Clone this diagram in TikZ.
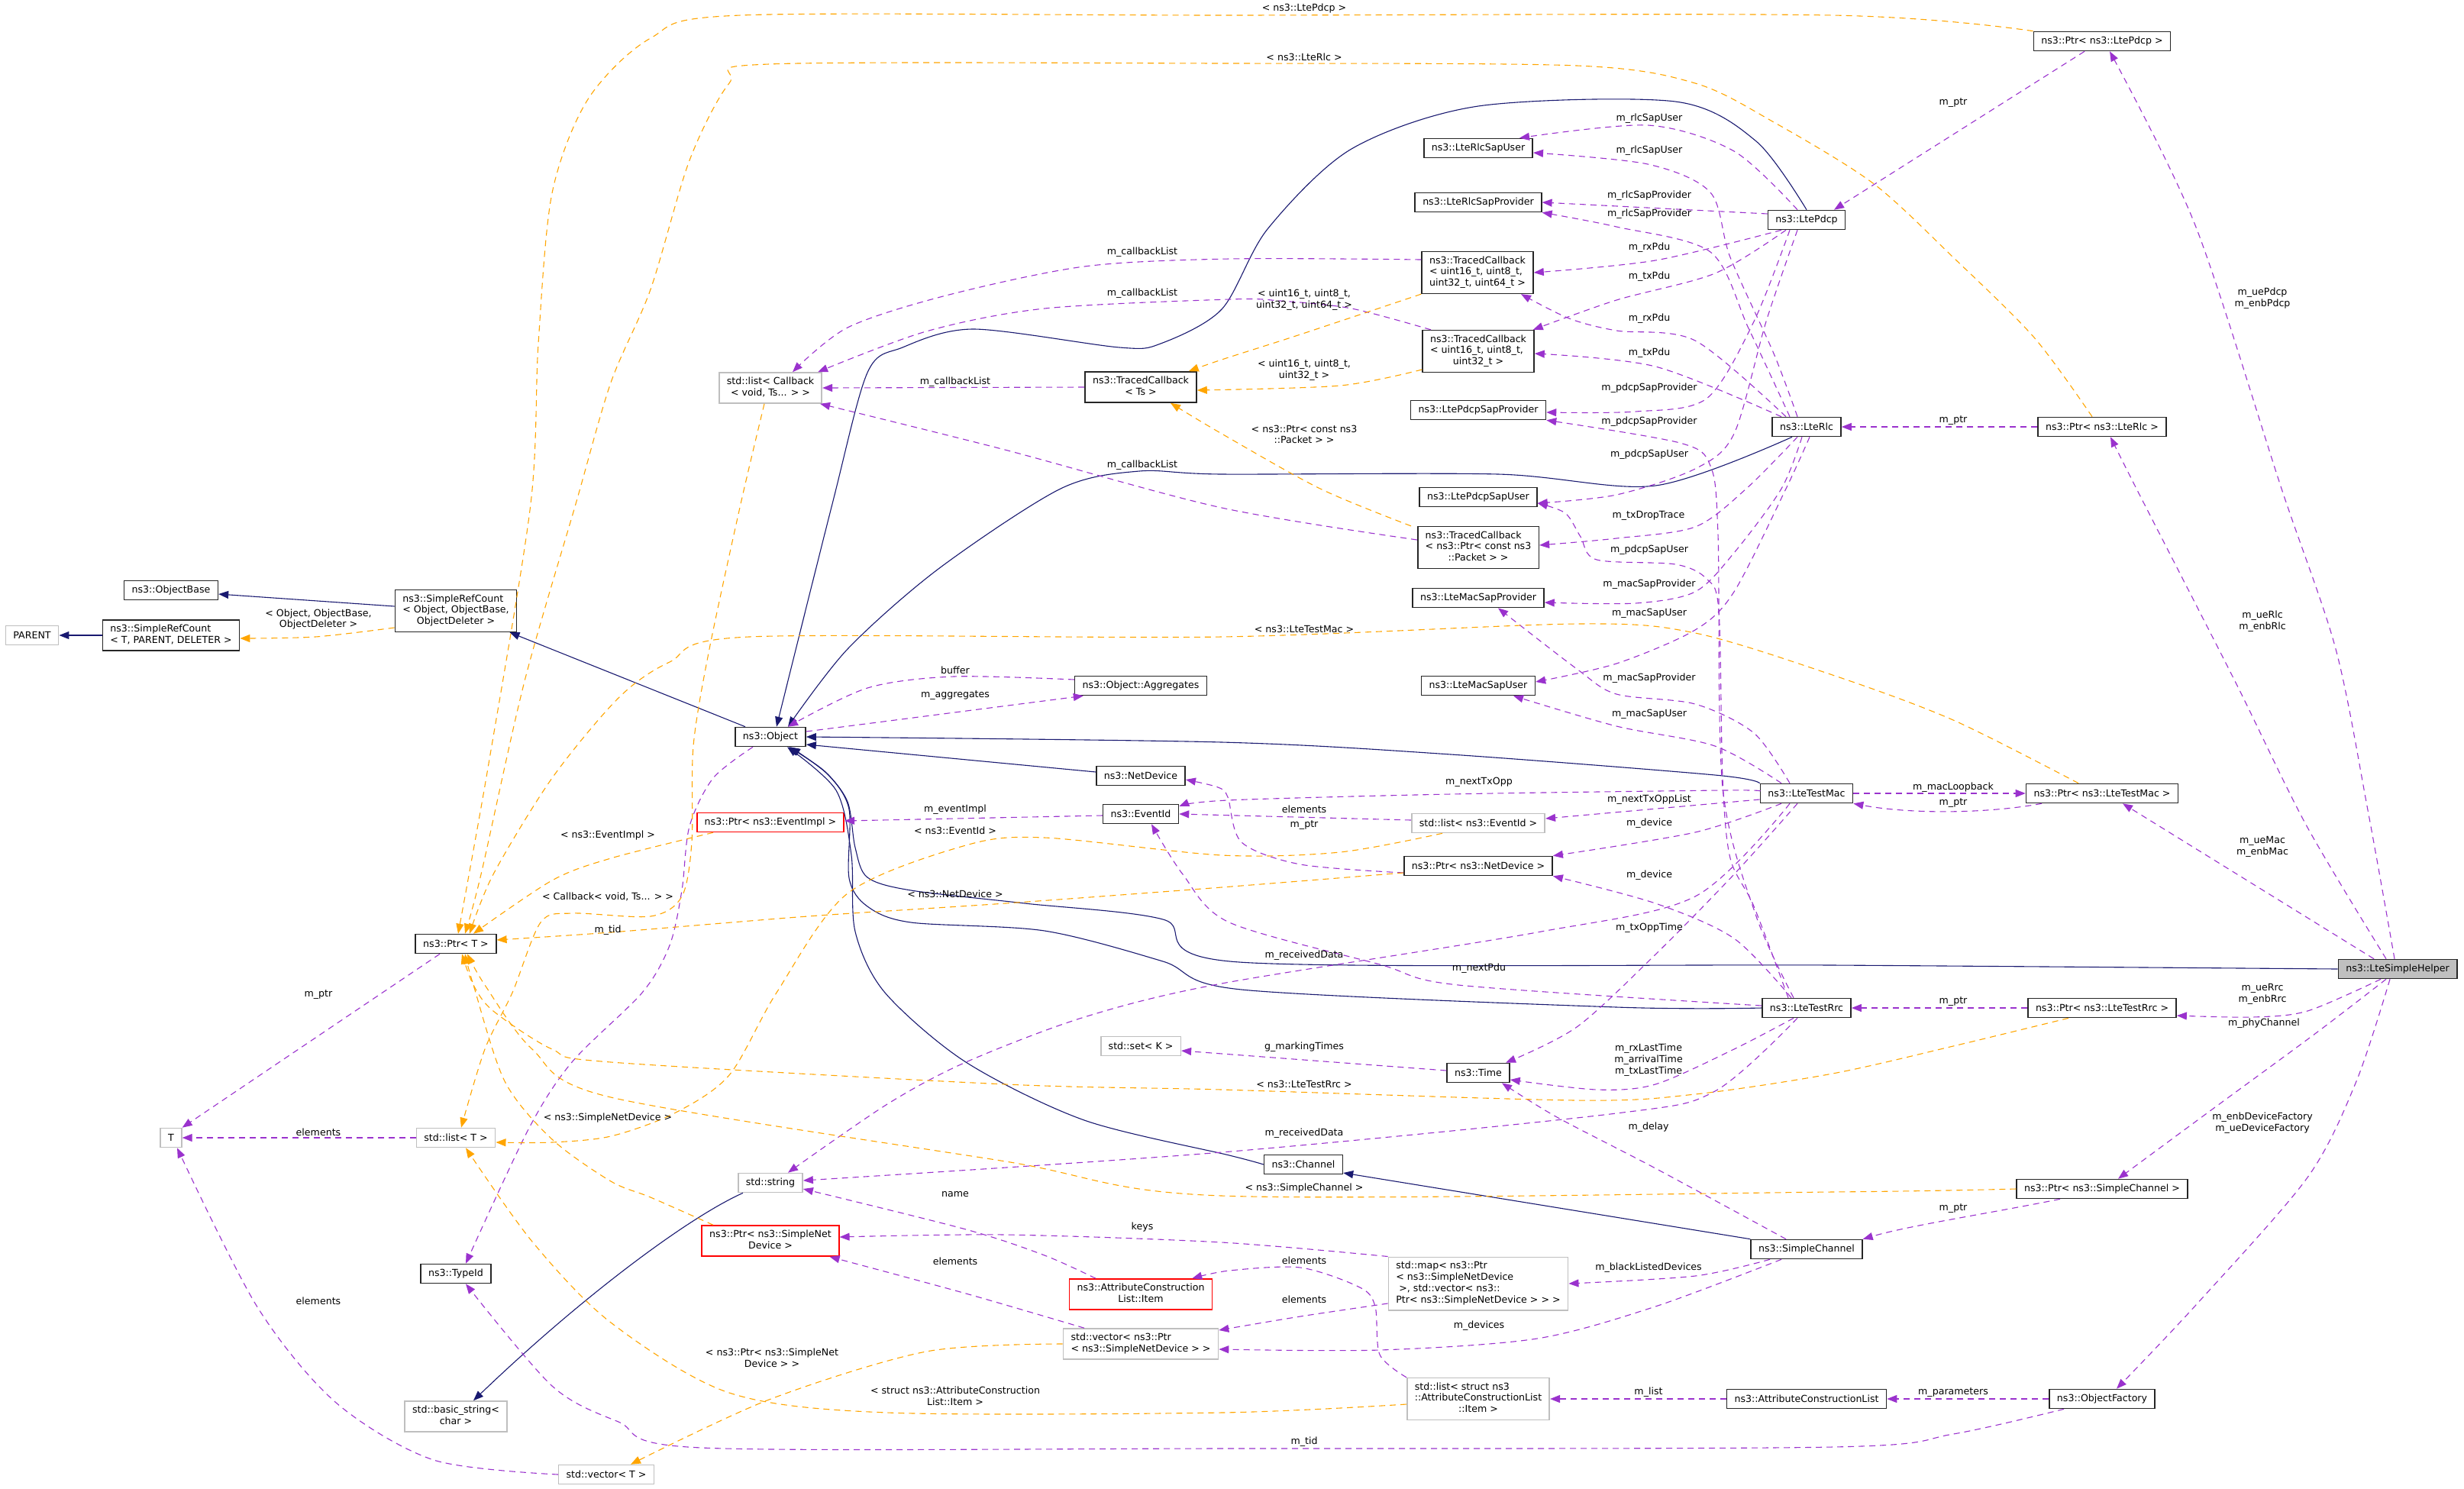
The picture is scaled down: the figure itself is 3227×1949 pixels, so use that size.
\documentclass[tikz,border=0pt]{standalone}
\usepackage{fontspec}
\setmainfont{DejaVu Sans}
\usetikzlibrary{arrows.meta}
\definecolor{edgenavy}{HTML}{191970}
\definecolor{edgepurple}{HTML}{9A32CD}
\definecolor{edgeorange}{HTML}{FFA500}
\definecolor{boxgray}{HTML}{BFBFBF}
\definecolor{boxdark}{HTML}{262626}
\newcommand{\lastc}[2]{\begin{tabular}{@{}l@{}}#1\\\multicolumn{1}{@{}c@{}}{#2}\end{tabular}}

\begin{document}
\begin{tikzpicture}[
    x=1pt,y=-1pt,
    every node/.style={font=\fontsize{12.6}{14.7}\selectfont},
    klass/.style={draw=boxdark,line width=1.6pt,fill=white,inner xsep=10pt,
                  inner ysep=5.3pt,minimum height=25pt},
    extklass/.style={klass,draw=boxgray},
    redklass/.style={klass,draw=red},
    helperklass/.style={klass,fill=boxgray},
    inherit/.style={-{Triangle[length=13pt,width=10pt]},line width=1.1pt,edgenavy},
    member/.style={-{Triangle[length=13pt,width=10pt]},line width=1.1pt,edgepurple,
                   dash pattern=on 8pt off 6pt},
    templ/.style={-{Triangle[length=13pt,width=10pt]},line width=1.1pt,edgeorange,
                  dash pattern=on 8pt off 6pt},
    elabel/.style={inner sep=1pt,align=center}
  ]
    \useasboundingbox (0,0) rectangle (3227,1949);

    % classes
    \node[extklass] (parent) at (42,832) {PARENT};
    \node[klass] (objectbase) at (224,773) {ns3::ObjectBase};
    \node[klass] (srctpd) at (224,832) {\lastc{ns3::SimpleRefCount}{< T, PARENT, DELETER >}};
    \node[klass] (srcobj) at (597,800) {\lastc{ns3::SimpleRefCount\\< Object, ObjectBase,}{ObjectDeleter >}};
    \node[klass] (ptrt) at (597,1236) {ns3::Ptr< T >};
    \node[extklass] (tnode) at (224,1490) {T};
    \node[extklass] (listt) at (597,1490) {std::list< T >};
    \node[klass] (typeid) at (597,1668) {ns3::TypeId};
    \node[extklass] (basicstr) at (597,1855) {\lastc{std::basic\_string<}{char >}};
    \node[extklass] (vectort) at (794,1931) {std::vector< T >};
    \node[klass] (object) at (1009,965) {ns3::Object};
    \node[redklass] (ptreventimpl) at (1009,1077) {ns3::Ptr< ns3::EventImpl >};
    \node[extklass] (listcb) at (1009,508) {\lastc{std::list< Callback}{< void, Ts... > >}};
    \node[extklass] (stdstring) at (1009,1549) {std::string};
    \node[redklass] (ptrsnd) at (1009,1625) {\lastc{ns3::Ptr< ns3::SimpleNet}{Device >}};
    \node[klass] (aggregates) at (1494,898) {ns3::Object::Aggregates};
    \node[klass] (tcts) at (1494,507) {\lastc{ns3::TracedCallback}{< Ts >}};
    \node[klass] (netdevice) at (1494,1016) {ns3::NetDevice};
    \node[klass] (eventid) at (1494,1066) {ns3::EventId};
    \node[extklass] (stdset) at (1494,1370) {std::set< K >};
    \node[redklass] (attritem) at (1494,1695) {\lastc{ns3::AttributeConstruction}{List::Item}};
    \node[extklass] (vecptrsnd) at (1494,1760) {\lastc{std::vector< ns3::Ptr}{< ns3::SimpleNetDevice > >}};
    \node[klass] (channel) at (1707,1525) {ns3::Channel};
    \node[klass] (rlcsapuser) at (1936,194) {ns3::LteRlcSapUser};
    \node[klass] (rlcsapprov) at (1936,265) {ns3::LteRlcSapProvider};
    \node[klass] (tc4) at (1935,357) {\lastc{ns3::TracedCallback\\< uint16\_t, uint8\_t,}{uint32\_t, uint64\_t >}};
    \node[klass] (tc3) at (1936,460) {\lastc{ns3::TracedCallback\\< uint16\_t, uint8\_t,}{uint32\_t >}};
    \node[klass] (pdcpsapprov) at (1936,537) {ns3::LtePdcpSapProvider};
    \node[klass] (pdcpsapuser) at (1936,651) {ns3::LtePdcpSapUser};
    \node[klass] (tcpkt) at (1936,717) {\lastc{ns3::TracedCallback\\< ns3::Ptr< const ns3}{::Packet > >}};
    \node[klass] (macsapprov) at (1936,783) {ns3::LteMacSapProvider};
    \node[klass] (macsapuser) at (1936,898) {ns3::LteMacSapUser};
    \node[extklass] (listevent) at (1936,1078) {std::list< ns3::EventId >};
    \node[klass] (ptrnetdev) at (1936,1134) {ns3::Ptr< ns3::NetDevice >};
    \node[klass] (time) at (1936,1405) {ns3::Time};
    \node[extklass] (stdmap) at (1936,1681) {\lastc{std::map< ns3::Ptr\\< ns3::SimpleNetDevice\\\ >, std::vector< ns3::}{Ptr< ns3::SimpleNetDevice > > >}};
    \node[extklass] (listitem) at (1936,1832) {\lastc{std::list< struct ns3\\::AttributeConstructionList}{::Item >}};
    \node[klass] (ltepdcp) at (2366,288) {ns3::LtePdcp};
    \node[klass] (lterlc) at (2366,559) {ns3::LteRlc};
    \node[klass] (ltetestmac) at (2366,1039) {ns3::LteTestMac};
    \node[klass] (ltetestrrc) at (2366,1320) {ns3::LteTestRrc};
    \node[klass] (simplechannel) at (2366,1636) {ns3::SimpleChannel};
    \node[klass] (attrlist) at (2366,1832) {ns3::AttributeConstructionList};
    \node[klass] (ptrpdcp) at (2753,54) {ns3::Ptr< ns3::LtePdcp >};
    \node[klass] (ptrrlc) at (2753,559) {ns3::Ptr< ns3::LteRlc >};
    \node[klass] (ptrmac) at (2753,1039) {ns3::Ptr< ns3::LteTestMac >};
    \node[klass] (ptrrrc) at (2753,1320) {ns3::Ptr< ns3::LteTestRrc >};
    \node[klass] (ptrchannel) at (2753,1557) {ns3::Ptr< ns3::SimpleChannel >};
    \node[klass] (objfactory) at (2753,1832) {ns3::ObjectFactory};
    \node[helperklass] (helper) at (3140,1269) {ns3::LteSimpleHelper};

    % inheritance
    \draw[inherit] (srctpd.west) -- (parent.east);
    \draw[inherit] ([yshift=6pt]srcobj.west) -- ([yshift=-5pt]objectbase.east);
    \draw[inherit] ([xshift=-33pt]object.north) -- ([xshift=-10pt]srcobj.south east);
    \draw[inherit] plot[smooth] coordinates {(ltepdcp.north) (2300,185) (2194,133) (1936,139) (1770,195) (1660,300) (1600,405) (1520,450) (1466,455) (1275,431) (1182,455) (1136,488) (1090,660) ([xshift=8pt]object.north)};
    \draw[inherit] plot[smooth] coordinates {([xshift=-19pt]lterlc.south) (2168,636) (1962,621) (1600,621) (1492,617) (1389,640) (1229,745) (1110,850) ([xshift=23pt]object.north)};
    \draw[inherit] plot[smooth] coordinates {(ltetestmac.north west) (2246,1015) (1900,988) (1600,972) (object.east)};
    \draw[inherit] ([yshift=5pt]netdevice.west) -- ([yshift=-10pt]object.east);
    \draw[inherit] plot[smooth] coordinates {(ltetestrrc.west) (2117,1319) (1626,1296) (1523,1259) (1368,1219) (1193,1208) (1136,1187) (1112,1150) (1112,1060) (1085,1015) ([xshift=26pt]object.south)};
    \draw[inherit] plot[smooth] coordinates {(helper.west) (2400,1264) (1623,1260) (1523,1204) (1342,1183) (1193,1166) (1136,1149) (1120,1110) (1110,1050) (1080,1010) ([xshift=24pt]object.south)};
    \draw[inherit] plot[smooth] coordinates {(channel.west) (1610,1513) (1420,1467) (1265,1391) (1159,1300) (1120,1220) (1115,1120) (1095,1035) ([xshift=22pt]object.south)};
    \draw[inherit] (simplechannel.north west) -- ([yshift=-11pt]channel.east);
    \draw[inherit] ([xshift=-36pt]stdstring.south) .. controls (900,1595) and (760,1700) .. ([xshift=23pt]basicstr.north);

    % members of the helper and the pointers
    \draw[member] ([xshift=-23pt]ptrpdcp.south) -- ([xshift=36pt]ltepdcp.north);
    \draw[member] plot[smooth] coordinates {([xshift=-4pt]helper.north) (3101,1061) (3059,850) (2988,640) (2875,295) ([xshift=10pt]ptrpdcp.south)};
    \draw[member] plot[smooth] coordinates {([xshift=-15pt]helper.north) (3020,1080) (2927,892) (2798,640) ([xshift=11pt]ptrrlc.south)};
    \draw[member] (ptrrlc.west) -- (lterlc.east);
    \draw[member] ([xshift=-31pt]helper.north) -- ([xshift=27pt]ptrmac.south);
    \draw[member] (ltetestmac.east) -- (ptrmac.west);
    \draw[member] ([xshift=-79pt]ptrmac.south) .. controls (2600,1066) and (2500,1066) .. (ltetestmac.south east);
    \draw[member] plot[smooth] coordinates {([xshift=-22pt]helper.south) (3022,1324) (2950,1332) ([yshift=-10pt]ptrrrc.east)};
    \draw[member] (ptrrrc.west) -- (ltetestrrc.east);
    \draw[member] plot[smooth] coordinates {([xshift=-15pt]helper.south) (3033,1353) (2901,1450) ([xshift=21pt]ptrchannel.north)};
    \draw[member] ([xshift=-55pt]ptrchannel.south) .. controls (2600,1590) and (2500,1605) .. (simplechannel.north east);
    \draw[member] plot[smooth] coordinates {([xshift=-10pt]helper.south) (3086,1416) (3022,1542) (2875,1710) ([xshift=19pt]objfactory.north)};
    \draw[member] (objfactory.west) -- (attrlist.east);
    \draw[member] (attrlist.west) -- (listitem.east);
    \draw[member] plot[smooth] coordinates {([xshift=-50pt]objfactory.south) (2558,1878) (2400,1895) (1600,1897) (919,1896) (810,1862) (723,1815) ([xshift=13pt]typeid.south)};

    % members of Object
    \draw[member] plot[smooth] coordinates {([xshift=-23pt]object.south) (934,1019) (903,1082) (893,1166) (877,1238) (841,1300) (749,1391) (692,1479) ([xshift=13pt]typeid.north)};
    \draw[member] ([yshift=7pt]object.east) -- ([xshift=12pt]aggregates.south west);
    \draw[member] plot[smooth] coordinates {([yshift=8pt]aggregates.west) (1249,886) (1136,901) ([xshift=23pt]object.north)};
    \draw[member] ([yshift=-2pt]eventid.west) -- ([yshift=2pt]ptreventimpl.east);

    % members of LtePdcp and LteRlc
    \draw[member] plot[smooth] coordinates {([xshift=-12pt]ltepdcp.north) (2271,198) (2158,164) ([xshift=54pt]rlcsapuser.north)};
    \draw[member] plot[smooth] coordinates {([xshift=-12pt]lterlc.north) (2323,463) (2266,337) (2240,252) (2158,215) ([yshift=-6pt]rlcsapuser.east)};
    \draw[member] ([yshift=8pt]ltepdcp.west) -- (rlcsapprov.east);
    \draw[member] plot[smooth] coordinates {([xshift=-22pt]lterlc.north) (2290,430) (2240,330) (2117,297) (rlcsapprov.south east)};
    \draw[member] plot[smooth] coordinates {([xshift=-33pt]ltepdcp.south) (2168,341) (tc4.east)};
    \draw[member] plot[smooth] coordinates {([xshift=-27pt]ltepdcp.south) (2246,358) (2117,393) ([xshift=-2pt]tc3.north east)};
    \draw[member] plot[smooth] coordinates {([xshift=-27pt]lterlc.north) (2220,446) (2117,433) (2055,417) ([xshift=57pt]tc4.south)};
    \draw[member] plot[smooth] coordinates {([xshift=-33pt]lterlc.north) (2168,480) ([yshift=-3pt]tc3.east)};
    \draw[member] plot[smooth] coordinates {([xshift=-22pt]ltepdcp.south) (2297,421) (2235,522) (2142,539) ([yshift=-3pt]pdcpsapprov.east)};
    \draw[member] plot[smooth] coordinates {([xshift=-12pt]ltepdcp.south) (2313,421) (2271,568) (2220,614) (2117,648) ([yshift=-8pt]pdcpsapuser.east)};
    \draw[member] plot[smooth] coordinates {([xshift=-12pt]lterlc.south) (2287,640) (2220,690) (2117,705) ([yshift=3pt]tcpkt.east)};
    \draw[member] plot[smooth] coordinates {([xshift=-6pt]lterlc.south) (2333,640) (2271,724) (2220,775) (2142,790) ([yshift=-6pt]macsapprov.east)};
    \draw[member] plot[smooth] coordinates {([xshift=4pt]lterlc.south) (2339,640) (2271,775) (2220,825) (2117,869) ([yshift=5pt]macsapuser.east)};

    % members of LteTestMac and LteTestRrc
    \draw[member] plot[smooth] coordinates {([xshift=-22pt]ltetestmac.north) (2297,960) (2220,922) (2117,909) (2065,876) ([xshift=26pt]macsapprov.south)};
    \draw[member] plot[smooth] coordinates {([xshift=-33pt]ltetestmac.north) (2246,977) (2117,951) ([xshift=46pt]macsapuser.south)};
    \draw[member] plot[smooth] coordinates {([yshift=3pt]ltetestmac.west) (2256,1035) (1900,1040) (1608,1048) ([yshift=10pt]eventid.east)};
    \draw[member] ([yshift=-8pt]ltetestmac.west) -- ([yshift=6pt]listevent.east);
    \draw[member] plot[smooth] coordinates {([xshift=-33pt]ltetestmac.south) (2220,1090) (ptrnetdev.north east)};
    \draw[member] plot[smooth] coordinates {([xshift=-12pt]ltetestmac.south) (2271,1145) (2168,1250) (2065,1345) ([xshift=36pt]time.north)};
    \draw[member] plot[smooth] coordinates {([xshift=-22pt]ltetestmac.south) (2220,1174) (2013,1221) (1600,1288) (1420,1332) (1265,1391) (1162,1446) ([xshift=23pt]stdstring.north)};
    \draw[member] plot[smooth] coordinates {([xshift=-17pt]ltetestrrc.north) (2300,1200) (2256,1031) (2250,700) (2240,610) (2200,580) (pdcpsapprov.south east)};
    \draw[member] plot[smooth] coordinates {([xshift=-24pt]ltetestrrc.north) (2297,1187) (2266,1124) (2256,1019) (2251,800) (2235,758) (2194,739) (2091,733) (2070,703) (2050,672) ([yshift=-8pt]pdcpsapuser.east)};
    \draw[member] plot[smooth] coordinates {([xshift=-20pt]ltetestrrc.north) (2271,1229) (2168,1183) (ptrnetdev.south east)};
    \draw[member] plot[smooth] coordinates {([xshift=-17pt]ltetestrrc.south) (2271,1374) (2168,1420) (2091,1427) ([yshift=-9pt]time.east)};
    \draw[member] plot[smooth] coordinates {([xshift=-12pt]ltetestrrc.south) (2246,1429) (2117,1458) (1600,1509) ([yshift=3pt]stdstring.east)};
    \draw[member] plot[smooth] coordinates {([yshift=3pt]ltetestrrc.west) (1910,1290) (1807,1263) (1610,1208) (1549,1145) ([xshift=14pt]eventid.south)};
    \draw[member] ([yshift=4pt]listevent.west) -- (eventid.east);
    \draw[member] plot[smooth] coordinates {([yshift=-9pt]ptrnetdev.west) (1703,1132) (1626,1103) (1608,1044) (1595,1031) ([yshift=-5pt]netdevice.east)};
    \draw[member] plot[smooth] coordinates {([xshift=-27pt]simplechannel.north) (2168,1530) (2039,1463) ([xshift=31pt]time.south)};
    \draw[member] ([yshift=3pt]time.west) -- ([yshift=-6pt]stdset.east);

    % members of the containers
    \draw[member] ([xshift=-21pt]ptrt.south) -- (tnode.north east);
    \draw[member] (listt.west) -- (tnode.east);
    \draw[member] plot[smooth] coordinates {(vectort.west) (568,1912) (439,1836) (336,1710) ([xshift=8pt]tnode.south)};
    \draw[member] (tcts.west) -- (listcb.east);
    \draw[member] plot[smooth] coordinates {([yshift=17pt]tc4.west) (1610,339) (1420,349) (1239,387) (1110,429) ([xshift=29pt]listcb.north)};
    \draw[member] plot[smooth] coordinates {([xshift=-62pt]tc3.north) (1770,404) (1677,394) (1610,392) (1368,404) (1213,434) ([xshift=-6pt]listcb.north east)};
    \draw[member] plot[smooth] coordinates {([yshift=10pt]tcpkt.west) (1600,665) (1316,589) ([xshift=-3pt]listcb.south east)};
    \draw[member] plot[smooth] coordinates {([xshift=-59pt]attritem.north) (1368,1644) (1265,1610) ([yshift=-8pt]stdstring.east)};
    \draw[member] plot[smooth] coordinates {([xshift=-74pt]vecptrsnd.north) (1265,1694) ([xshift=-13pt]ptrsnd.south east)};
    \draw[member] plot[smooth] coordinates {(stdmap.north west) (1600,1627) (1317,1617) ([yshift=5pt]ptrsnd.east)};
    \draw[member] plot[smooth] coordinates {([yshift=-26pt]stdmap.west) (1703,1724) ([yshift=18pt]vecptrsnd.east)};
    \draw[member] plot[smooth] coordinates {(listitem.north west) (1807,1774) (1801,1711) (1781,1686) (1703,1660) (1610,1664) ([xshift=-27pt]attritem.north east)};
    \draw[member] plot[smooth] coordinates {([xshift=-48pt]simplechannel.south) (2220,1671) (stdmap.east)};
    \draw[member] plot[smooth] coordinates {([xshift=-33pt]simplechannel.south) (2168,1711) (2013,1753) (1807,1768) ([yshift=-7pt]vecptrsnd.east)};

    % template instances
    \draw[templ] plot[smooth] coordinates {([yshift=-22pt]srcobj.west) (413,834) ([yshift=-4pt]srctpd.east)};
    \draw[templ] plot[smooth] coordinates {(ptrpdcp.north west) (2400,20) (1600,20) (970,20) (852,50) (770,130) (723,253) (705,450) (695,660) (640,1000) ([xshift=3pt]ptrt.north)};
    \draw[templ] plot[smooth] coordinates {([xshift=-13pt]ptrrlc.north) (2664,442) (2558,337) (2453,240) (2323,160) (2220,109) (2065,86) (1600,83) (1007,84) (955,109) (903,210) (852,379) (800,501) (754,660) (687,892) (630,1145) ([xshift=12pt]ptrt.north)};
    \draw[templ] plot[smooth] coordinates {([xshift=-31pt]ptrmac.north) (2558,943) (2400,884) (2220,829) (2065,817) (1600,834) (981,834) (877,867) (810,914) (723,1019) (646,1145) ([xshift=18pt]ptrt.north)};
    \draw[templ] plot[smooth] coordinates {([xshift=-75pt]ptreventimpl.south) (800,1124) (723,1153) ([xshift=23pt]ptrt.north)};
    \draw[templ] plot[smooth] coordinates {([yshift=-9pt]ptrnetdev.west) (1600,1162) (1317,1183) (1058,1200) (800,1221) ([yshift=5pt]ptrt.east)};
    \draw[templ] plot[smooth] coordinates {([xshift=-75pt]ptrsnd.north) (852,1568) (800,1547) (723,1492) (661,1416) (620,1290) ([xshift=12pt]ptrt.south)};
    \draw[templ] plot[smooth] coordinates {([xshift=-44pt]ptrrrc.south) (2558,1370) (2400,1406) (2220,1433) (2065,1441) (1600,1427) (1317,1420) (800,1391) (723,1374) (646,1324) (620,1290) ([xshift=8pt]ptrt.south)};
    \draw[templ] plot[smooth] coordinates {(ptrchannel.west) (2400,1561) (1600,1566) (1317,1521) (800,1437) (697,1374) (635,1290) ([xshift=15pt]ptrt.south)};
    \draw[templ] plot[smooth] coordinates {([xshift=-8pt]listcb.south) (970,660) (929,850) (908,977) (906,1103) (893,1174) (852,1200) (749,1196) (708,1208) (671,1300) (635,1374) ([xshift=7pt]listt.north)};
    \draw[templ] plot[smooth] coordinates {([xshift=-47pt]listevent.south) (1755,1116) (1600,1120) (1368,1097) (1265,1107) (1110,1170) (1017,1300) (955,1408) (883,1458) (800,1488) (723,1496) ([yshift=-6pt]listt.east)};
    \draw[templ] plot[smooth] coordinates {([yshift=-7pt]listitem.west) (1600,1850) (1162,1850) (955,1824) (800,1732) (697,1626) ([xshift=13pt]listt.south)};
    \draw[templ] plot[smooth] coordinates {(vecptrsnd.west) (1213,1770) (1007,1833) ([xshift=32pt]vectort.north)};
    \draw[templ] plot[smooth] coordinates {(tc4.south west) (1703,438) (1600,471) ([xshift=-11pt]tcts.north east)};
    \draw[templ] plot[smooth] coordinates {([yshift=-24pt]tc3.west) (1755,505) ([yshift=-4pt]tcts.east)};
    \draw[templ] plot[smooth] coordinates {([xshift=-88pt]tcpkt.north) (1729,640) (1600,568) ([xshift=39pt]tcts.south)};

    % edge labels
    \node[elabel] (a1) at (1708,11) {< ns3::LtePdcp >};
    \node[elabel] (a2) at (1708,75) {< ns3::LteRlc >};
    \node[elabel] (a3) at (2160,155) {m\_rlcSapUser};
    \node[elabel] (a4) at (2160,197) {m\_rlcSapUser};
    \node[elabel] (a5) at (2160,256) {m\_rlcSapProvider};
    \node[elabel] (a6) at (2160,280) {m\_rlcSapProvider};
    \node[elabel] (a7) at (2160,324) {m\_rxPdu};
    \node[elabel] (a8) at (2160,362) {m\_txPdu};
    \node[elabel] (a9) at (2160,417) {m\_rxPdu};
    \node[elabel] (a10) at (2160,462) {m\_txPdu};
    \node[elabel] (a11) at (2160,508) {m\_pdcpSapProvider};
    \node[elabel] (a12) at (2160,552) {m\_pdcpSapProvider};
    \node[elabel] (a13) at (2160,595) {m\_pdcpSapUser};
    \node[elabel] (a14) at (2159,675) {m\_txDropTrace};
    \node[elabel] (a15) at (2160,720) {m\_pdcpSapUser};
    \node[elabel] (a16) at (2160,765) {m\_macSapProvider};
    \node[elabel] (a17) at (2160,803) {m\_macSapUser};
    \node[elabel] (a18) at (1708,824) {< ns3::LteTestMac >};
    \node[elabel] (a19) at (2160,888) {m\_macSapProvider};
    \node[elabel] (a20) at (2160,935) {m\_macSapUser};
    \node[elabel] (a21) at (1937,1024) {m\_nextTxOpp};
    \node[elabel] (a22) at (2160,1047) {m\_nextTxOppList};
    \node[elabel] (a23) at (1708,1060) {elements};
    \node[elabel] (a24) at (1708,1081) {m\_ptr};
    \node[elabel] (a25) at (2160,1078) {m\_device};
    \node[elabel] (a26) at (2160,1146) {m\_device};
    \node[elabel] (a27) at (2160,1215) {m\_txOppTime};
    \node[elabel] (a28) at (1708,1251) {m\_receivedData};
    \node[elabel] (a29) at (1937,1268) {m\_nextPdu};
    \node[elabel] (a30) at (1496,330) {m\_callbackList};
    \node[elabel] (a31) at (1496,384) {m\_callbackList};
    \node[elabel] (a32) at (1251,500) {m\_callbackList};
    \node[elabel] (a33) at (1496,609) {m\_callbackList};
    \node[elabel] (a34) at (1708,393) {< uint16\_t, uint8\_t,\\uint32\_t, uint64\_t >};
    \node[elabel] (a35) at (1708,485) {< uint16\_t, uint8\_t,\\uint32\_t >};
    \node[elabel] (a36) at (1708,569) {< ns3::Ptr< const ns3\\::Packet > >};
    \node[elabel] (a37) at (2558,135) {m\_ptr};
    \node[elabel] (a38) at (2963,391) {m\_uePdcp\\m\_enbPdcp};
    \node[elabel] (a39) at (2558,551) {m\_ptr};
    \node[elabel] (a40) at (417,811) {< Object, ObjectBase,\\ObjectDeleter >};
    \node[elabel] (a41) at (796,1094) {< ns3::EventImpl >};
    \node[elabel] (a42) at (796,1174) {< Callback< void, Ts... > >};
    \node[elabel] (a43) at (796,1218) {m\_tid};
    \node[elabel] (a44) at (1251,878) {buffer};
    \node[elabel] (a45) at (1251,911) {m\_aggregates};
    \node[elabel] (a46) at (1251,1060) {m\_eventImpl};
    \node[elabel] (a47) at (1251,1088) {< ns3::EventId >};
    \node[elabel] (a48) at (1251,1171) {< ns3::NetDevice >};
    \node[elabel] (a49) at (2963,814) {m\_ueRlc\\m\_enbRlc};
    \node[elabel] (a50) at (2558,1031) {m\_macLoopback};
    \node[elabel] (a51) at (2558,1052) {m\_ptr};
    \node[elabel] (a52) at (2963,1109) {m\_ueMac\\m\_enbMac};
    \node[elabel] (a53) at (417,1303) {m\_ptr};
    \node[elabel] (a54) at (417,1483) {elements};
    \node[elabel] (a55) at (417,1704) {elements};
    \node[elabel] (a56) at (796,1464) {< ns3::SimpleNetDevice >};
    \node[elabel] (a57) at (1251,1564) {name};
    \node[elabel] (a58) at (1496,1607) {keys};
    \node[elabel] (a59) at (1251,1652) {elements};
    \node[elabel] (a60) at (1011,1778) {< ns3::Ptr< ns3::SimpleNet\\Device > >};
    \node[elabel] (a61) at (1251,1828) {< struct ns3::AttributeConstruction\\List::Item >};
    \node[elabel] (a62) at (1708,1371) {g\_markingTimes};
    \node[elabel] (a63) at (2159,1388) {m\_rxLastTime\\m\_arrivalTime\\m\_txLastTime};
    \node[elabel] (a64) at (1708,1420) {< ns3::LteTestRrc >};
    \node[elabel] (a65) at (2159,1476) {m\_delay};
    \node[elabel] (a66) at (1708,1484) {m\_receivedData};
    \node[elabel] (a67) at (1708,1556) {< ns3::SimpleChannel >};
    \node[elabel] (a68) at (1708,1651) {elements};
    \node[elabel] (a69) at (2159,1660) {m\_blackListedDevices};
    \node[elabel] (a70) at (1708,1702) {elements};
    \node[elabel] (a71) at (1937,1736) {m\_devices};
    \node[elabel] (a72) at (2159,1823) {m\_list};
    \node[elabel] (a73) at (1708,1888) {m\_tid};
    \node[elabel] (a74) at (2963,1302) {m\_ueRrc\\m\_enbRrc};
    \node[elabel] (a75) at (2558,1312) {m\_ptr};
    \node[elabel] (a76) at (2965,1340) {m\_phyChannel};
    \node[elabel] (a77) at (2963,1471) {m\_enbDeviceFactory\\m\_ueDeviceFactory};
    \node[elabel] (a78) at (2558,1583) {m\_ptr};
    \node[elabel] (a79) at (2558,1824) {m\_parameters};
  \end{tikzpicture}
\end{document}
